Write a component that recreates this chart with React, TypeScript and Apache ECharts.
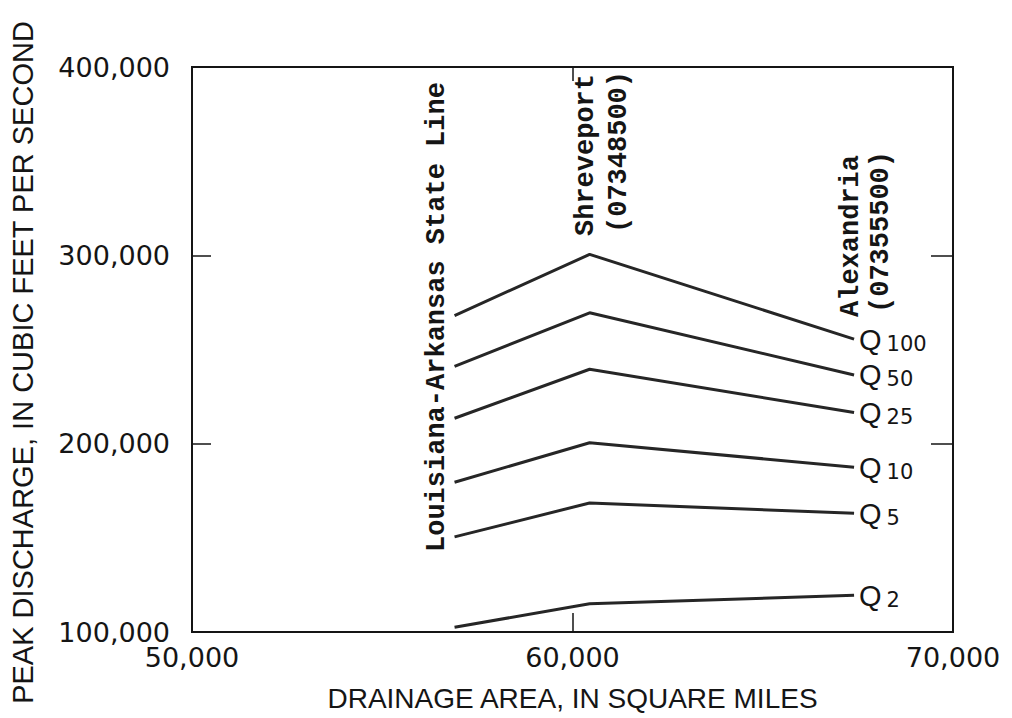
import React, { useEffect, useRef } from "react";
import * as echarts from "echarts";

// Drainage area (square miles) at the three sites
const sites = ["Louisiana-Arkansas State Line", "Shreveport (07348500)", "Alexandria (07355500)"];
const drainageArea = [56900, 60450, 67400];

// Peak discharge (cubic feet per second) per recurrence interval
const seriesNames = ["100", "50", "25", "10", "5", "2"];
const q100 = [268000, 300500, 255500];
const q50 = [241000, 269500, 236500];
const q25 = [213500, 239500, 216500];
const q10 = [179500, 200500, 187500];
const q5 = [150500, 168500, 163000];
const q2 = [102500, 115000, 119500];
const seriesValues = [q100, q50, q25, q10, q5, q2];

// Axis ticks
const xTicks = [50000, 60000, 70000];
const xTickLabels = ["50,000", "60,000", "70,000"];
const yTicks = [100000, 200000, 300000, 400000];
const yTickLabels = ["100,000", "200,000", "300,000", "400,000"];

const INK = "#151515";
const LINE_INK = "#262626";
const SANS = "'Liberation Sans', Arial, sans-serif";
const DIGITS = "'DejaVu Sans', sans-serif";
const MONO = "'Liberation Mono', 'Courier New', monospace";

export default function App() {
  const ref = useRef<HTMLDivElement>(null);

  useEffect(() => {
    document.body.style.margin = "0";
    const chart = echarts.init(ref.current!, null, { renderer: "svg" });

    const lineSeries = seriesValues.map((vals, i) => ({
      name: "Q" + seriesNames[i],
      type: "line",
      xAxisIndex: 0,
      yAxisIndex: 0,
      symbol: "none",
      data: vals.map((v, j) => [drainageArea[j], v]),
      lineStyle: { color: LINE_INK, width: 3 },
      endLabel: {
        show: true,
        distance: 5,
        formatter: () => "{q|Q}{s|" + seriesNames[i] + "}",
        rich: {
          q: { fontFamily: SANS, fontSize: 29, color: INK, verticalAlign: "bottom", lineHeight: 30 },
          s: { fontFamily: DIGITS, fontSize: 21, color: INK, verticalAlign: "bottom", lineHeight: 30, padding: [0, 0, 0, 5] },
        },
      },
      silent: true,
    }));

    const annot = (text: string, x: number, y: number) => ({
      type: "text",
      x,
      y,
      rotation: Math.PI / 2,
      style: {
        text,
        fontFamily: MONO,
        fontWeight: "bold",
        fontSize: 27,
        fill: INK,
        align: "left",
        verticalAlign: "middle",
      },
    });

    chart.setOption({
      animation: false,
      backgroundColor: "#ffffff",
      grid: {
        left: 187,
        right: 59,
        top: 67,
        bottom: 86,
        show: true,
        borderColor: INK,
        borderWidth: 2,
        backgroundColor: "transparent",
      },
      xAxis: [
        {
          type: "value",
          min: 50000,
          max: 70000,
          interval: 10000,
          position: "bottom",
          name: "DRAINAGE AREA, IN SQUARE MILES",
          nameLocation: "middle",
          nameGap: 52,
          nameTextStyle: { fontFamily: SANS, fontSize: 28, color: INK },
          axisLine: { show: false },
          axisTick: { show: true, inside: true, length: 19, lineStyle: { color: INK, width: 1.5 } },
          axisLabel: {
            margin: 12,
            fontFamily: DIGITS,
            fontSize: 27,
            color: INK,
            formatter: (v: number) => xTickLabels[xTicks.indexOf(v)] ?? "",
          },
          splitLine: { show: false },
        },
        {
          type: "value",
          min: 50000,
          max: 70000,
          interval: 10000,
          position: "top",
          axisLine: { show: false },
          axisTick: { show: true, inside: true, length: 14, lineStyle: { color: INK, width: 1.5 } },
          axisLabel: { show: false },
          splitLine: { show: false },
        },
      ],
      yAxis: [
        {
          type: "value",
          min: 100000,
          max: 400000,
          interval: 100000,
          position: "left",
          name: "PEAK DISCHARGE, IN CUBIC FEET PER SECOND",
          nameLocation: "middle",
          nameGap: 155,
          nameRotate: 90,
          nameTextStyle: { fontFamily: SANS, fontSize: 29, color: INK, padding: [0, 26, 0, 0] },
          axisLine: { show: false },
          axisTick: { show: true, inside: true, length: 19, lineStyle: { color: INK, width: 1.5 } },
          axisLabel: {
            margin: 22,
            fontFamily: DIGITS,
            fontSize: 27,
            color: INK,
            formatter: (v: number) => yTickLabels[yTicks.indexOf(v)] ?? "",
          },
          splitLine: { show: false },
        },
        {
          type: "value",
          min: 100000,
          max: 400000,
          interval: 100000,
          position: "right",
          axisLine: { show: false },
          axisTick: { show: true, inside: true, length: 22, lineStyle: { color: INK, width: 1.5 } },
          axisLabel: { show: false },
          splitLine: { show: false },
        },
      ],
      series: lineSeries,
      graphic: [
        annot("Louisiana-Arkansas State Line", 437, 552),
        annot("Shreveport", 586, 236),
        annot("(07348500)", 619, 233),
        annot("Alexandria", 851, 317),
        annot("(07355500)", 881, 313),
      ],
    });

    return () => chart.dispose();
  }, []);

  return <div ref={ref} style={{ width: 1012, height: 718 }} />;
}
